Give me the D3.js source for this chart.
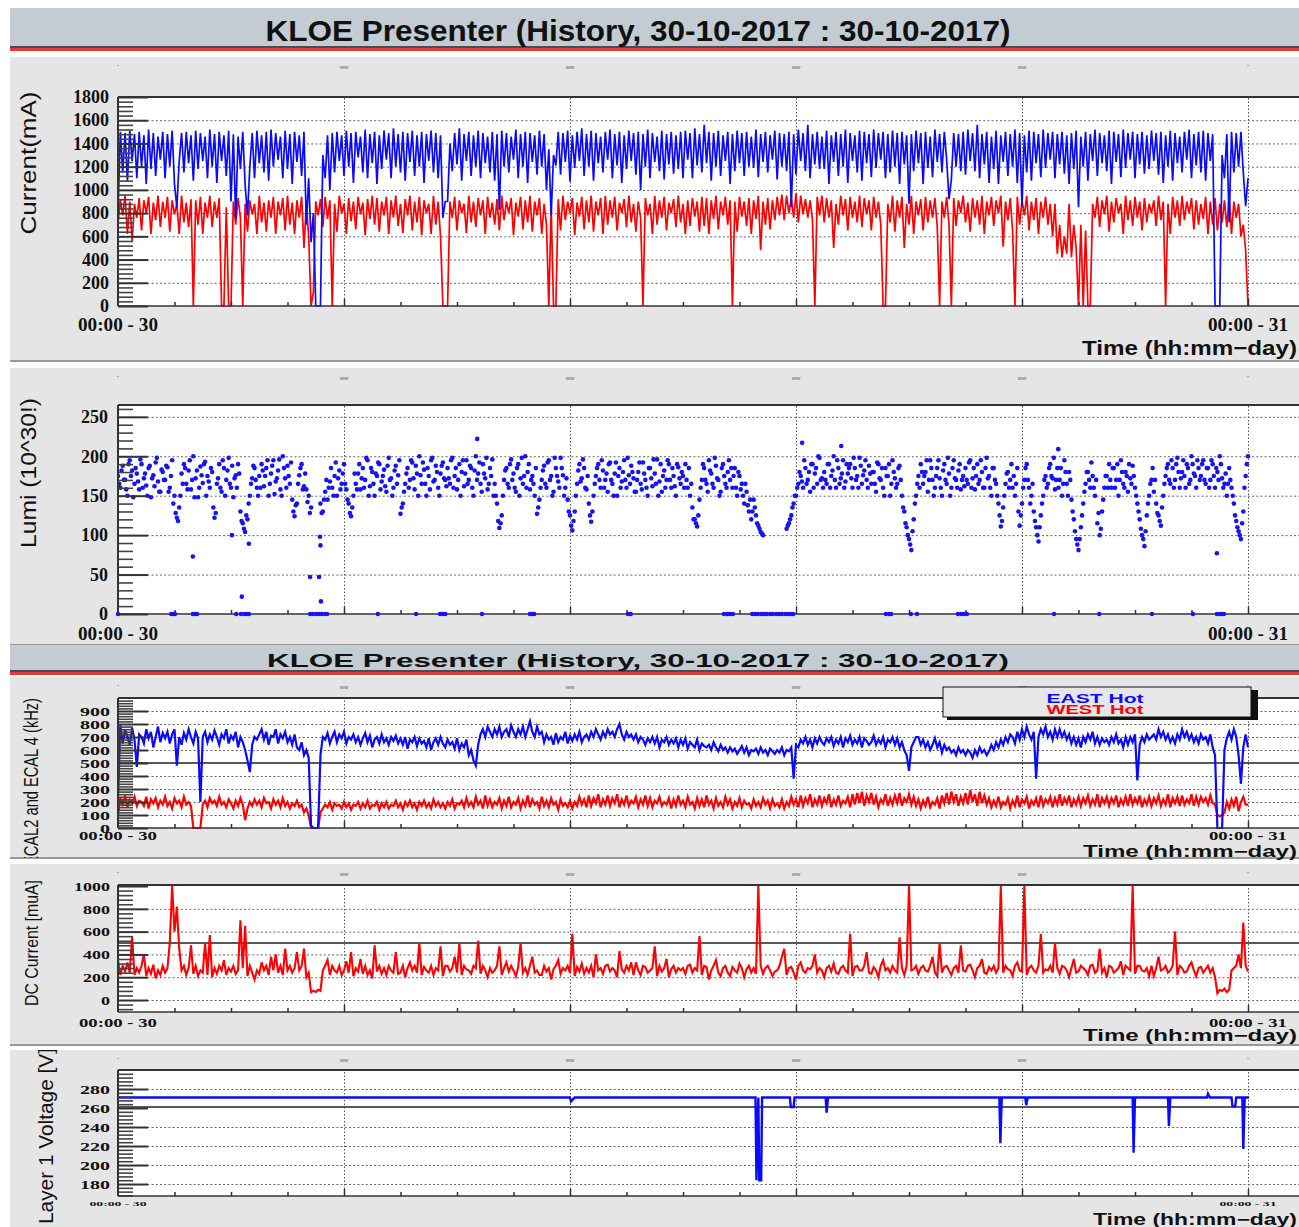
<!DOCTYPE html>
<html><head><meta charset="utf-8">
<script src="https://cdn.jsdelivr.net/npm/d3@7"></script>
<style>body{margin:0;background:#fff;overflow:hidden}</style>
</head><body>
<svg id="chart" width="1299" height="1227"></svg>
<script>
// ---------------- DATA ----------------
const titleText = "KLOE Presenter (History, 30-10-2017 : 30-10-2017)";
const xStartLabel = "00:00 - 30";
const xEndLabel = "00:00 - 31";
const xAxisTitle = "Time  (hh:mm\u2212day)";
const gridHours = [4.8, 9.6, 14.4, 19.2, 24];
const minorHours = [1.2,2.4,3.6,6,7.2,8.4,10.8,12,13.2,15.6,16.8,18,20.4,21.6,22.8];

const currentTicks = [0,200,400,600,800,1000,1200,1400,1600,1800];
const lumiTicks = [0,50,100,150,200,250];
const ecalTicks = [0,100,200,300,400,500,600,700,800,900];
const dcTicks = [0,200,400,600,800,1000];
const layerTicks = [180,200,220,240,260,280];

// Panel 1 : beam currents (mA), one sample every 3 minutes (one row = one hour)
const eMinusCurrent = [
800,1500,1150,1490,1080,1510,1250,1480,1100,1500,1200,1470,1050,1520,1180,1490,1120,1460,1260,1500,
1100,1480,1200,1510,1050,850,1250,1490,1150,1500,1230,1470,1080,1510,1180,1490,1250,1460,1100,1520,
1200,1480,1060,1500,1250,1470,1120,1510,900,1480,750,1460,1180,1500,1050,780,1200,1490,1100,1510,
1230,1470,1150,1500,1080,1520,1200,1490,1260,1460,1100,1510,1180,1480,1050,1500,1240,1470,1120,1500,
700,1100,550,800,0,0,0,1300,1100,1470,1000,1490,1150,1500,1250,1470,1120,1510,1200,1490,
1060,1500,1280,1460,1150,1520,1100,1480,1230,1500,1050,1470,1180,1510,1260,1490,1100,1530,1200,1480,
1150,1500,1080,1490,1240,1510,1120,1470,1200,1500,1060,1480,1250,1510,1150,1490,1100,1470,760,900,
900,1400,1160,1490,1220,1530,1080,1480,1250,1500,1120,1470,1200,1510,1100,1490,1230,1460,1150,1500,
1080,1480,830,1510,1200,1490,1150,1460,1260,1520,1100,1480,1200,1500,1060,1490,1240,1470,1130,1510,
1200,1480,1000,1350,780,1300,1210,1500,1130,1490,1240,1510,1070,1470,1190,1500,1250,1530,1120,1480,
1200,1510,1080,1490,1230,1460,1150,1500,1260,1520,1100,1480,1210,1500,1060,1470,1180,1510,1250,1490,
1130,1500,1000,1480,1200,1520,1100,1490,1240,1460,1160,1510,1090,1480,1220,1500,1140,1470,1180,1500,
1100,1510,1260,1490,1100,1530,1210,1480,1150,1560,1230,1500,1080,1490,1200,1510,1120,1470,1250,1500,
1050,1480,1160,1510,1230,1490,1120,1500,1200,1460,1190,1520,1110,1480,1240,1500,1150,1470,1260,1510,
1090,1490,1200,1480,1160,1500,850,1480,1130,1520,1250,1490,1160,1560,1100,1480,1220,1500,1180,1460,
1180,1510,1050,1470,1240,1500,1120,1480,1200,1520,1060,1490,1250,1470,1150,1510,1080,1500,1230,1480,
1110,1520,1190,1490,1260,1500,1100,1480,1150,1510,1200,1490,1050,1500,1220,1470,880,1480,1160,1510,
1230,1490,1050,1500,1190,1460,1110,1520,1240,1480,1150,1500,1260,920,1090,1490,1200,1480,1160,1500,
1130,1520,1250,1490,1160,1560,1100,1480,1220,1500,1060,1460,1180,1510,1050,1470,1240,1500,1120,1480,
1200,1520,1060,1490,860,1470,1150,1510,1080,1500,1230,1480,1110,1520,1190,1490,1260,1500,1100,1480,
1220,1500,1140,1470,1050,1490,1180,1510,850,1460,1200,1500,1080,1480,1250,1520,1120,1490,1230,1470,
1160,1510,1050,1500,1240,1480,1110,1520,1190,1490,1260,1500,1100,1480,1220,1500,1140,1470,1180,1510,
1250,1490,1130,1500,1060,1470,1200,1510,1080,1490,1230,1460,1150,1500,1260,1520,1100,1480,1210,1500,
1150,1510,1080,1490,1250,1480,0,0,0,1300,1100,1480,720,1500,1150,1490,1200,1500,1150,860,
1100];
const ePlusCurrent = [
700,920,780,950,620,900,560,880,760,930,650,910,800,940,620,890,740,950,680,900,
760,940,640,910,790,880,620,950,720,890,680,920,0,910,700,940,620,890,760,950,
680,900,760,930,0,0,850,0,0,900,700,930,760,0,880,640,910,790,880,620,
950,720,890,640,910,760,940,620,900,780,930,650,950,700,890,620,910,760,940,500,
880,600,0,120,900,780,920,680,940,750,910,0,880,640,950,800,880,620,930,730,
900,660,940,790,890,610,920,750,950,700,930,640,900,780,940,620,910,760,950,690,
880,630,920,780,950,650,900,720,940,610,910,800,880,620,950,700,900,600,0,0,
0,900,760,940,650,910,800,880,630,950,720,900,680,930,780,910,620,940,760,890,
700,920,650,950,740,900,800,930,610,890,770,940,660,910,720,950,640,900,780,930,
620,880,700,0,860,0,0,920,650,950,740,900,800,930,610,890,770,940,660,910,
720,950,640,900,780,930,620,950,700,910,760,940,650,890,800,920,680,950,720,880,
640,900,760,0,930,780,880,620,950,700,910,760,940,650,890,800,920,680,950,720,
880,620,910,690,930,770,900,640,940,690,930,620,910,750,950,660,900,780,940,700,
910,0,900,640,940,770,900,690,930,620,910,750,950,480,900,700,930,660,910,740,
940,780,960,740,950,800,930,760,970,720,950,790,920,760,910,740,0,940,780,950,
720,930,760,910,500,880,700,950,780,920,650,940,760,900,720,950,680,930,790,910,
650,940,760,900,700,0,0,880,720,950,640,910,760,940,500,880,700,950,620,900,
780,920,650,940,720,910,760,930,680,0,900,760,940,700,0,930,690,910,800,950,
720,890,640,930,760,910,700,950,620,900,780,940,690,910,800,950,510,900,740,930,
650,0,940,700,910,780,950,650,900,740,930,620,900,760,940,700,880,600,880,450,
700,420,600,450,880,420,700,500,0,700,0,650,0,0,880,760,940,680,910,790,
950,640,900,720,930,800,880,620,950,740,910,690,940,760,900,650,930,720,880,800,
910,690,950,740,900,0,880,620,940,760,910,690,950,740,900,800,930,660,910,700,
880,750,940,620,900,700,930,650,880,720,910,680,950,620,900,760,880,600,700,480,
0];

// Panel 2 : luminosity (10^30), one sample every 3 minutes (lumi) plus the readings in between (lumiMid)
const lumi = [
175,160,188,170,150,195,182,165,178,158,190,172,163,185,148,176,192,168,155,180,
170,186,160,195,150,122,135,178,190,165,182,158,200,172,148,187,166,193,175,160,
180,122,165,190,155,185,170,198,160,148,176,190,130,115,104,120,150,172,185,160,
175,190,162,185,150,178,195,168,182,158,200,172,188,165,145,124,140,176,190,162,
158,150,135,null,null,null,140,130,155,145,168,160,175,150,182,165,190,158,140,124,
150,165,178,158,185,170,195,162,180,150,175,190,168,183,155,198,172,160,188,176,
127,140,165,185,170,192,158,178,200,165,183,150,175,195,168,188,160,178,192,170,
185,165,198,175,158,190,180,162,195,170,185,150,200,178,165,190,172,158,185,196,
165,140,109,125,170,185,160,196,178,155,190,172,165,200,180,158,175,150,127,145,
170,188,160,195,175,155,185,168,198,176,160,145,125,106,130,165,190,172,185,158,
140,117,150,175,190,160,182,170,155,192,165,178,150,185,168,195,160,176,188,172,
155,180,165,192,170,150,185,162,178,196,168,155,182,170,190,160,175,150,186,165,
175,190,160,150,135,120,111,145,170,185,165,195,178,160,188,170,155,190,165,180,
170,160,185,150,175,165,140,155,130,120,145,125,112,104,100,null,null,null,null,null,
null,null,null,null,108,115,125,140,150,165,175,160,185,170,155,190,178,165,198,172,
180,165,190,175,200,160,185,172,195,168,178,190,160,185,175,198,165,182,170,188,
165,180,155,190,170,160,185,175,150,195,172,165,188,150,130,110,95,81,120,150,
175,190,165,180,155,195,170,160,185,172,150,190,165,178,160,195,170,182,158,175,
185,165,195,172,158,190,170,180,160,198,175,150,185,165,140,111,135,165,180,170,
160,150,185,112,140,170,190,160,150,130,110,92,125,150,175,165,190,172,158,185,
170,150,195,165,180,145,120,95,81,110,140,165,180,160,175,150,115,100,130,160,
175,190,160,185,170,150,195,165,180,155,172,188,160,140,120,100,86,125,150,170,
155,140,125,112,150,175,190,165,185,170,198,160,180,175,190,165,200,178,160,185,
175,195,165,185,170,190,160,180,200,172,165,150,185,160,140,118,105,95,130,175,
200];
const lumiMid = [
165,182,170,158,190,175,148,185,168,196,160,178,150,188,172,162,198,155,183,170,
188,155,175,140,128,118,150,165,185,158,195,170,148,182,160,176,190,150,168,185,
135,128,172,160,195,150,182,165,188,172,160,178,118,108,125,140,165,188,170,150,
160,182,175,195,165,188,152,172,196,150,185,160,175,192,130,138,165,185,158,178,
142,128,null,null,null,null,128,145,170,160,185,150,192,172,158,178,165,145,128,135,
178,158,190,172,160,198,150,185,165,178,192,158,175,162,188,170,150,182,165,195,
135,155,178,160,195,172,188,150,176,192,165,185,158,198,170,180,150,188,172,162,
172,195,160,185,170,150,195,178,165,188,160,182,170,192,155,178,198,165,175,150,
150,118,115,150,182,165,190,170,160,185,150,198,175,160,190,170,165,185,135,160,
182,165,192,170,150,198,175,160,185,150,172,130,112,118,150,182,168,196,160,175,
125,130,165,185,170,195,160,178,190,170,150,192,175,160,180,170,198,165,180,155,
170,192,158,178,160,185,172,196,165,150,190,175,160,195,170,185,162,190,172,180,
160,170,185,165,120,115,125,160,190,170,155,182,165,198,172,150,185,175,160,195,
185,175,160,180,158,150,165,138,145,130,135,115,108,102,null,null,null,null,null,null,
null,null,null,null,112,120,135,150,160,180,168,195,165,180,190,160,185,200,170,160,
170,190,160,182,170,195,165,178,160,190,185,172,198,170,160,188,176,195,160,178,
180,165,192,172,185,150,175,190,165,180,160,185,170,135,115,100,88,105,140,165,
160,180,175,195,170,185,150,175,195,160,182,170,198,150,185,172,160,190,170,162,
170,192,160,185,175,165,195,160,185,172,160,185,170,150,125,118,150,178,160,190,
175,165,130,125,160,185,170,140,165,118,100,110,140,170,160,185,175,198,170,160,
185,165,180,150,170,130,105,88,95,125,155,180,170,192,160,170,128,108,145,175,
160,170,185,160,190,170,180,160,175,190,165,175,150,130,108,95,105,140,165,185,
170,128,118,135,165,185,170,195,160,190,180,172,195,160,185,170,190,175,195,170,
190,170,185,160,195,175,185,170,190,160,178,165,170,150,125,110,100,115,160,190];
const lumiOutlierHours  = [1.59, 2.42, 2.63, 2.78, 4.08, 4.27, 4.29, 4.30, 4.31, 7.63, 14.53, 15.36, 19.97, 23.34];
const lumiOutlierValues = [73,   100,  22,   89,   47,   47,   98,   87,   16,   222,  217,   213,   209,   77];
const lumiZeroHours = [0,1.13,1.17,1.21,1.59,1.64,1.68,2.51,2.61,2.68,2.74,2.78,4.08,4.14,4.21,4.27,4.33,4.40,4.44,
5.52,6.33,6.84,6.90,6.95,7.73,8.75,8.79,8.84,10.83,10.89,12.87,12.94,13.00,13.06,13.47,13.53,13.59,13.66,13.72,
13.78,13.85,13.91,13.98,14.04,14.10,14.17,14.23,14.29,14.34,16.31,16.38,16.42,16.84,16.97,17.84,17.91,17.97,18.03,
19.88,20.84,21.96,22.83,23.34,23.41,23.45,23.49];

// Panel 3 : ECAL rates (kHz), one sample every 3 minutes (one row = one hour)
const ecalEast = [
230,790,650,760,700,640,770,680,470,720,700,650,760,690,740,620,700,780,660,730,
690,740,650,720,760,480,700,640,730,680,760,700,650,740,690,200,700,740,660,720,
680,750,700,640,720,690,760,650,710,680,740,620,700,660,600,520,430,640,700,680,
720,760,680,740,640,710,700,760,650,720,690,740,660,700,640,720,620,600,660,560,
600,540,20,0,0,0,560,700,680,730,650,700,740,660,720,690,740,650,700,680,
720,660,700,640,690,730,660,710,620,680,700,650,720,660,690,640,700,670,710,650,
690,640,700,610,680,660,700,630,690,650,670,620,690,600,660,690,640,700,650,620,
680,640,660,610,690,600,650,620,680,560,600,520,480,640,720,760,700,780,740,700,
760,720,780,700,740,760,700,790,740,700,760,720,780,700,760,820,740,700,780,720,
740,660,720,680,700,640,730,660,700,680,740,650,710,670,720,680,740,660,700,720,
680,740,700,760,720,680,740,700,760,720,740,700,760,800,720,680,740,700,720,680,
720,660,700,680,640,690,660,700,650,700,620,680,660,700,640,680,650,690,620,680,
640,690,610,660,640,620,680,600,650,630,620,640,600,660,620,590,640,600,620,580,
620,590,610,570,600,630,580,620,560,600,590,610,570,620,580,600,560,610,590,570,
600,580,620,560,600,590,620,380,640,620,680,650,700,640,680,620,690,650,700,660,
640,690,660,700,630,680,650,700,620,690,660,710,640,680,650,700,620,690,670,640,
660,710,640,680,650,700,620,680,660,700,640,690,620,660,600,560,440,620,660,700,
700,640,680,620,660,600,640,690,620,660,580,640,600,620,580,600,560,620,580,600,
560,600,580,540,600,560,620,580,600,560,590,640,600,660,620,680,640,700,660,720,
700,650,740,680,760,700,780,720,680,740,380,700,760,720,780,700,740,680,760,700,
760,700,740,680,720,650,700,640,690,620,700,660,720,680,740,650,700,640,690,660,
680,640,700,660,720,650,680,620,700,640,700,660,720,365,640,700,660,720,680,700,
720,680,760,700,740,680,720,660,700,650,720,680,760,700,740,680,720,660,700,650,
720,680,700,650,720,620,560,0,0,0,600,690,740,680,760,700,560,340,620,720,
620];
const ecalWest = [
100,230,180,250,160,220,190,240,170,210,200,170,240,150,220,190,230,160,210,180,
240,170,200,150,230,190,210,160,240,180,200,170,0,0,0,0,180,210,160,230,
190,210,170,240,180,200,160,220,190,150,210,170,230,180,60,150,200,170,220,180,
210,160,230,190,200,150,220,180,210,160,230,170,200,150,190,170,210,160,180,120,
150,100,0,0,0,0,120,150,180,160,200,140,190,170,180,150,200,160,190,140,
180,170,200,150,190,160,210,150,180,170,200,140,190,160,200,150,180,170,210,160,
190,140,200,170,210,160,190,140,200,170,210,160,190,150,220,170,200,160,190,150,
200,170,220,150,190,180,210,160,230,170,200,160,240,180,210,150,250,170,220,160,
200,180,230,150,210,170,240,160,200,180,230,150,210,170,250,160,220,180,200,150,
240,170,210,160,230,180,200,140,220,170,190,160,210,150,200,170,240,180,220,160,
250,170,230,190,260,160,220,180,250,170,230,190,260,160,220,180,250,170,210,190,
240,160,220,180,250,170,230,160,210,190,240,170,200,180,230,150,220,170,250,180,
210,160,240,180,200,150,230,170,220,160,250,180,210,150,230,170,200,160,240,180,
220,150,200,170,230,160,210,180,190,150,220,170,200,160,230,180,210,150,220,170,
190,160,220,150,200,170,240,180,220,160,250,170,230,190,260,160,220,180,250,170,
230,190,260,160,220,180,250,170,210,190,240,160,260,180,270,190,280,170,250,200,
270,180,240,160,220,190,260,170,230,180,250,190,270,170,230,200,260,180,240,170,
220,150,210,170,240,160,200,180,230,150,250,190,270,180,280,200,260,170,240,190,
270,180,290,200,260,170,280,190,250,180,230,160,210,170,240,160,200,180,230,150,
210,170,250,160,220,190,240,150,210,180,230,160,250,170,220,190,240,160,230,180,
260,170,230,190,250,160,220,180,240,170,230,190,250,170,220,180,260,160,230,190,
240,170,230,190,250,160,220,180,240,170,260,180,230,190,250,160,220,180,240,170,
230,190,250,170,220,180,260,160,230,190,240,170,250,180,220,190,260,170,240,180,
240,200,230,180,250,190,180,100,90,100,120,200,150,220,170,240,130,200,240,180,
180];

// Panel 4 : DC current (muA), one sample every 3 minutes (one row = one hour)
const dcCurrent = [
350,220,300,250,330,240,560,220,280,240,300,400,210,280,230,310,190,260,220,300,
240,280,500,1000,600,820,450,260,300,220,280,480,230,300,210,260,240,500,220,570,
200,280,230,300,260,350,220,280,250,300,230,260,700,280,650,210,300,240,180,260,
230,330,260,300,220,380,260,400,240,300,220,450,260,300,240,280,420,260,300,450,
200,240,70,80,70,90,80,260,300,350,220,300,260,240,300,220,260,340,240,420,
210,280,250,360,230,300,220,260,190,480,250,300,230,280,220,300,260,240,420,230,
240,300,200,280,330,260,300,240,500,220,290,260,240,300,220,280,260,470,210,300,
300,250,280,380,240,500,220,300,270,260,230,300,280,520,230,300,260,200,280,240,
260,300,470,220,280,330,250,300,260,210,290,500,240,280,220,300,380,240,260,220,
220,300,250,280,180,270,300,350,230,280,260,300,240,580,210,290,250,320,230,280,
240,300,200,400,260,280,230,300,310,250,280,260,200,430,270,240,300,260,330,220,
330,260,220,300,290,240,260,280,470,210,300,250,280,360,200,270,300,240,280,260,
280,230,300,310,240,280,260,560,220,300,290,180,260,300,350,240,210,280,300,240,
210,290,260,240,320,280,200,270,300,240,280,230,1000,300,230,280,300,260,210,250,
260,300,380,450,220,280,290,240,180,300,330,260,240,280,270,300,400,240,280,260,
200,280,300,250,320,240,230,280,300,260,240,580,210,290,300,260,260,300,420,240,
230,290,260,200,300,350,260,280,240,300,260,240,550,280,220,300,1000,260,270,300,
230,280,300,260,250,300,380,240,210,500,240,290,300,260,220,280,300,240,480,260,
250,300,310,260,200,280,300,360,240,230,290,260,300,240,280,1000,240,300,270,260,
210,300,330,260,250,1000,220,280,300,260,240,300,580,240,270,260,300,240,500,280,
230,300,290,260,200,280,360,240,250,300,280,260,220,300,310,240,260,450,240,280,
200,300,290,240,260,280,340,220,300,280,260,1000,230,300,300,260,250,280,210,300,
210,280,380,260,270,300,240,260,300,600,220,300,280,240,250,300,330,260,210,280,
290,240,270,300,240,280,200,60,90,80,100,70,90,260,280,300,400,280,680,300,
250];

// Panel 5 : Layer 1 voltage (V)
const layerHours = [0,9.60,9.62,9.70,13.54,13.56,13.60,13.62,13.66,13.68,14.27,14.29,14.35,14.37,15.03,15.05,15.08,
18.72,18.74,18.77,19.27,19.29,19.32,21.55,21.57,21.60,22.30,22.32,22.35,23.13,23.15,23.19,23.65,23.67,23.73,23.75,
23.88,23.90,23.93,24.02];
const layerVolts = [271,271,267,271,271,184,271,184,184,271,271,261,261,271,271,255,271,
271,223,271,271,263,271,271,213,271,271,241,271,271,275,271,271,262,262,271,
271,217,271,271];

// ---------------- DRAWING ----------------
const W = 1299, L = 118;
const svg = d3.select("#chart");
const x = d3.scaleLinear().domain([0, 24]).range([118, 1248]);
const sampleHours = arr => arr.map((_, i) => i * 24 / (arr.length - 1));
const BLUE = "#0a0aff", RED = "#ff0000";
const SERIF = "'Liberation Serif','Times New Roman',serif";
const SANS = "'Liberation Sans',Arial,Helvetica,sans-serif";
const NARROW = "'Liberation Sans Narrow','Liberation Sans',Arial,sans-serif";
const fmt = d3.format("d");

svg.append("rect").attr("width", W).attr("height", 1227).attr("fill", "#fff");

function titleBar(y0, y1, size, base, len, family) {
  svg.append("rect").attr("x", 10).attr("y", y0).attr("width", W - 10).attr("height", y1 - y0).attr("fill", "#c3cbd3");
  svg.append("line").attr("x1", 10).attr("x2", W).attr("y1", y1).attr("y2", y1).attr("stroke", "#4c4c4c").attr("stroke-width", 2);
  svg.append("line").attr("x1", 10).attr("x2", W).attr("y1", y1 + 2.5).attr("y2", y1 + 2.5).attr("stroke", "#e5393a").attr("stroke-width", 3);
  svg.append("text").attr("x", 638).attr("y", base).attr("text-anchor", "middle")
    .attr("font-family", family).attr("font-weight", "bold").attr("font-size", size)
    .attr("textLength", len).attr("lengthAdjust", "spacingAndGlyphs").attr("fill", "#111").text(titleText);
}

let clipN = 0;
function panel(o) {
  const g = svg.append("g");
  g.append("rect").attr("x", 10).attr("y", o.bg[0]).attr("width", W - 10).attr("height", o.bg[1] - o.bg[0]).attr("fill", "#e5e5e5");
  g.append("line").attr("x1", 10).attr("x2", W).attr("y1", o.bg[1]).attr("y2", o.bg[1]).attr("stroke", "#9a9a9a").attr("stroke-width", 2);
  const [top, bot] = o.plot;
  const y = d3.scaleLinear().domain(o.domain).range([bot, top]);
  g.append("rect").attr("x", L).attr("y", top).attr("width", W - L + 5).attr("height", bot - top).attr("fill", "#fff");
  g.selectAll("text.tm").data([0].concat(gridHours)).join("text").attr("class", "tm")
    .attr("x", d => x(d)).attr("y", o.bg[0] + 12).attr("text-anchor", "middle")
    .attr("font-family", SANS).attr("font-size", 6).attr("fill", "#666").text((d, i) => i === 0 || i === 5 ? "\u02c7" : "ww");
  g.append("g").attr("transform", `translate(0,${bot})`)
    .call(d3.axisBottom(x).tickValues(gridHours).tickSize(-(bot - top)).tickFormat(""))
    .call(s => { s.select(".domain").remove(); s.selectAll("line").attr("stroke", "#555").attr("stroke-width", 1).attr("stroke-dasharray", "1.5,2"); });
  g.append("g").attr("transform", `translate(${L},0)`)
    .call(d3.axisRight(y).tickValues(o.grid).tickSize(W - L).tickFormat(""))
    .call(s => { s.select(".domain").remove(); s.selectAll("line").attr("stroke", "#666").attr("stroke-width", 1).attr("stroke-dasharray", "2,2.2"); });
  (o.solid || []).forEach(v => g.append("line").attr("x1", L).attr("x2", W).attr("y1", y(v)).attr("y2", y(v)).attr("stroke", "#222").attr("stroke-width", 1.6));
  const id = "clip" + (clipN++);
  svg.append("clipPath").attr("id", id).append("rect").attr("x", L).attr("y", top - 1).attr("width", W - L).attr("height", bot - top + 2);
  const data = g.append("g").attr("clip-path", `url(#${id})`);
  return { g, y, data, o, top, bot };
}

function finish(p) {
  const { g, y, o, top, bot } = p;
  const a = g.append("g");
  a.append("g").attr("transform", `translate(${L},0)`)
    .call(d3.axisRight(y).tickValues(o.minors).tickSize(15).tickFormat(""))
    .call(s => { s.select(".domain").remove(); s.selectAll("line").attr("stroke", "#444").attr("stroke-width", 1.6); });
  a.append("g").attr("transform", `translate(${L},0)`)
    .call(d3.axisRight(y).tickValues(o.ticks).tickSize(30).tickFormat(""))
    .call(s => { s.select(".domain").remove(); s.selectAll("line").attr("stroke", "#333").attr("stroke-width", 2); });
  a.append("g").attr("transform", `translate(0,${bot})`)
    .call(d3.axisTop(x).tickValues(minorHours).tickSize(4).tickFormat(""))
    .call(s => { s.select(".domain").remove(); s.selectAll("line").attr("stroke", "#333").attr("stroke-width", 1.5); });
  a.append("g").attr("transform", `translate(0,${bot})`)
    .call(d3.axisTop(x).tickValues(gridHours).tickSize(7).tickFormat(""))
    .call(s => { s.select(".domain").remove(); s.selectAll("line").attr("stroke", "#333").attr("stroke-width", 1.5); });
  a.append("line").attr("x1", L).attr("x2", W).attr("y1", top).attr("y2", top).attr("stroke", "#333").attr("stroke-width", 2);
  a.append("line").attr("x1", L).attr("x2", W).attr("y1", bot).attr("y2", bot).attr("stroke", "#333").attr("stroke-width", 1.6);
  a.append("line").attr("x1", L).attr("x2", L).attr("y1", top).attr("y2", bot).attr("stroke", "#333").attr("stroke-width", 2);
  a.append("g").attr("transform", `translate(${o.labelX},0)`)
    .call(d3.axisLeft(y).tickValues(o.ticks).tickSize(0).tickPadding(0).tickFormat(fmt))
    .call(s => {
      s.select(".domain").remove();
      s.selectAll("text").attr("font-family", SERIF).attr("font-weight", "bold").attr("font-size", o.labelSize).attr("fill", "#111");
      if (o.labelCharW) s.selectAll("text").attr("textLength", d => fmt(d).length * o.labelCharW).attr("lengthAdjust", "spacingAndGlyphs");
    });
  [[0, xStartLabel], [24, xEndLabel]].forEach(([h, t]) => {
    a.append("text").attr("x", x(h)).attr("y", o.xlabY).attr("text-anchor", "middle")
      .attr("font-family", SERIF).attr("font-weight", "bold").attr("font-size", o.xlabSize)
      .attr("textLength", o.xlabLen).attr("lengthAdjust", "spacingAndGlyphs").attr("fill", "#111").text(t);
  });
  if (o.timeY) {
    a.append("text").attr("x", 1297).attr("y", o.timeY).attr("text-anchor", "end")
      .attr("font-family", SANS).attr("font-weight", "bold").attr("font-size", o.timeSize)
      .attr("textLength", o.timeLen).attr("lengthAdjust", "spacingAndGlyphs").attr("fill", "#111").text(xAxisTitle);
  }
  const cid = "tclip" + (clipN++);
  svg.append("clipPath").attr("id", cid).append("rect").attr("x", 10).attr("y", o.bg[0]).attr("width", 200).attr("height", o.bg[1] - o.bg[0]);
  const yt = o.ytitle;
  a.append("g").attr("clip-path", `url(#${cid})`).append("text")
    .attr("transform", `translate(${yt.x},${yt.y}) rotate(-90)`).attr("text-anchor", yt.anchor || "middle")
    .attr("font-family", yt.family).attr("font-weight", yt.weight || "normal").attr("font-size", yt.size)
    .attr("textLength", yt.len).attr("lengthAdjust", "spacingAndGlyphs").attr("fill", "#111").text(yt.text);
}

const line = (yS) => d3.line().defined(d => d[1] != null).x(d => x(d[0])).y(d => yS(d[1]));
const pairs = arr => { const h = sampleHours(arr); return arr.map((v, i) => [h[i], v]); };

// Title bar 1
titleBar(8, 47, 30, 41, 745, NARROW);

// ---------- Panel 1 ----------
const p1 = panel({ bg: [57, 361], plot: [97, 306], domain: [0, 1800], grid: [200,400,600,800,1000,1200,1400,1600] });
p1.data.append("path").datum(pairs(ePlusCurrent)).attr("d", line(p1.y)).attr("fill", "none").attr("stroke", RED).attr("stroke-width", 1.7);
p1.data.append("path").datum(pairs(eMinusCurrent)).attr("d", line(p1.y)).attr("fill", "none").attr("stroke", BLUE).attr("stroke-width", 1.7);
Object.assign(p1.o, { ticks: currentTicks, minors: d3.range(0, 1801, 40).filter(v => v % 200),
  labelX: 109, labelSize: 18, xlabY: 331, xlabSize: 18, xlabLen: 80, timeY: 355, timeSize: 20, timeLen: 215,
  ytitle: { text: "Current(mA)", x: 36, y: 163, size: 22, len: 143, family: SANS } });
finish(p1);

// ---------- Panel 2 ----------
const p2 = panel({ bg: [368, 645], plot: [405, 614], domain: [0, 265], grid: [50,100,150,200,250] });
const lumiPts = pairs(lumi).concat(lumiMid.map((v, i) => [(i + 0.5) / 20, v])).filter(d => d[1] != null);
p2.data.selectAll("circle.l").data(lumiPts).join("circle")
  .attr("cx", d => x(d[0])).attr("cy", d => p2.y(d[1])).attr("r", 2.3).attr("fill", "#1414f5");
p2.data.selectAll("circle.o").data(lumiOutlierHours.map((h, i) => [h, lumiOutlierValues[i]])).join("circle")
  .attr("cx", d => x(d[0])).attr("cy", d => p2.y(d[1])).attr("r", 2.3).attr("fill", "#1414f5");
Object.assign(p2.o, { ticks: lumiTicks, minors: d3.range(0, 261, 10).filter(v => v % 50),
  labelX: 108, labelSize: 18, xlabY: 640, xlabSize: 18, xlabLen: 80,
  ytitle: { text: "Lumi (10^30!)", x: 36, y: 473, size: 22, len: 150, family: SANS } });
finish(p2);
p2.g.selectAll("circle.z").data(lumiZeroHours).join("circle")
  .attr("cx", d => x(d)).attr("cy", p2.y(0)).attr("r", 2.2).attr("fill", "#1414f5");

// Title bar 2
titleBar(645, 671, 19, 667, 742, SANS);

// ---------- Panel 3 ----------
const p3 = panel({ bg: [677, 858], plot: [698, 828], domain: [0, 1000], grid: [100,200,300,400,600,700,800,900], solid: [500] });
p3.data.append("path").datum(pairs(ecalWest)).attr("d", line(p3.y)).attr("fill", "none").attr("stroke", RED).attr("stroke-width", 2.2);
p3.data.append("path").datum(pairs(ecalEast)).attr("d", line(p3.y)).attr("fill", "none").attr("stroke", BLUE).attr("stroke-width", 2.2);
Object.assign(p3.o, { ticks: ecalTicks, minors: d3.range(0, 1001, 20).filter(v => v % 100),
  labelX: 110, labelSize: 13, labelCharW: 10, xlabY: 840, xlabSize: 13, xlabLen: 78, timeY: 857, timeSize: 16, timeLen: 214,
  ytitle: { text: "ECAL2 and ECAL 4 (kHz)", x: 38, y: 698, anchor: "end", size: 20, len: 168, family: NARROW } });
finish(p3);
const leg = svg.append("g");
leg.append("rect").attr("x", 947).attr("y", 690).attr("width", 311).attr("height", 30).attr("fill", "#111");
leg.append("rect").attr("x", 943).attr("y", 687).attr("width", 308).attr("height", 30).attr("fill", "#e6e6e6").attr("stroke", "#111").attr("stroke-width", 1);
[["EAST Hot", BLUE, 703], ["WEST Hot", RED, 714]].forEach(([t, c, yy]) => {
  leg.append("text").attr("x", 1095).attr("y", yy).attr("text-anchor", "middle").attr("font-family", SANS).attr("font-weight", "bold")
    .attr("font-size", 13).attr("textLength", 97).attr("lengthAdjust", "spacingAndGlyphs").attr("fill", c).text(t);
});

// ---------- Panel 4 ----------
const p4 = panel({ bg: [864, 1045], plot: [885, 1012], domain: [-105, 1009], grid: [0,200,400,600,800], solid: [500] });
p4.data.append("path").datum(pairs(dcCurrent)).attr("d", line(p4.y)).attr("fill", "none").attr("stroke", RED).attr("stroke-width", 2.1);
Object.assign(p4.o, { ticks: dcTicks, minors: d3.range(-80, 1001, 40).filter(v => v % 200),
  labelX: 110, labelSize: 13.5, labelCharW: 9, xlabY: 1027, xlabSize: 13, xlabLen: 78, timeY: 1041, timeSize: 16, timeLen: 214,
  ytitle: { text: "DC Current [muA]", x: 38, y: 943, size: 18, len: 126, family: NARROW } });
finish(p4);

// ---------- Panel 5 ----------
const p5 = panel({ bg: [1050, 1240], plot: [1070, 1196], domain: [167.4, 300], grid: [180,200,220,240,280], solid: [261] });
p5.data.append("path").datum(layerHours.map((h, i) => [h, layerVolts[i]])).attr("d", line(p5.y)).attr("fill", "none").attr("stroke", BLUE).attr("stroke-width", 2.4);
Object.assign(p5.o, { ticks: layerTicks, minors: d3.range(168, 301, 4).filter(v => v % 20),
  labelX: 110, labelSize: 13, labelCharW: 10, xlabY: 1206, xlabSize: 7, xlabLen: 57, timeY: 1225, timeSize: 16, timeLen: 204,
  ytitle: { text: "Layer 1 Voltage [V]", x: 53, y: 1048, anchor: "end", size: 21, len: 176, family: SANS } });
finish(p5);
</script>
</body></html>
